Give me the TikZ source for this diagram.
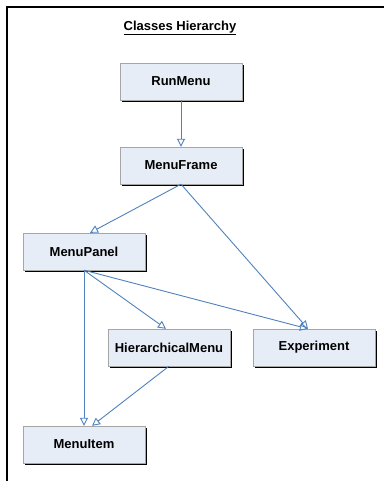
\documentclass[tikz,border=0pt]{standalone}
\usepackage{fontspec}
\setmainfont{Liberation Sans}
\usetikzlibrary{arrows.meta,shadows}
\definecolor{boxfill}{RGB}{231,237,247}
\definecolor{linkblue}{RGB}{79,129,189}
\begin{document}
\begin{tikzpicture}[x=1pt, y=-1pt, font=\fontsize{13}{15}\selectfont\bfseries,
  cls/.style={draw=gray!70, fill=boxfill, minimum width=122pt, minimum height=37pt, inner sep=0pt,
    drop shadow={shadow xshift=1.6pt, shadow yshift=-1.6pt, fill=black, opacity=1}},
  inh/.style={draw=linkblue, line width=0.9pt, -{Triangle[open, length=8pt, width=8pt]}}]
  \useasboundingbox (0,0) rectangle (384,481);
  % frame
  \draw[line width=2pt] (7,481) |- (384,7);
  \node (title) at (180,28) {\underline{Classes Hierarchy}};
  \node[cls] (runmenu) at (181,81.5) {RunMenu};
  \node[cls] (frame) at (181,165.5) {MenuFrame};
  \node[cls] (panel) at (84,251.5) {MenuPanel};
  \node[cls] (hier) at (169,347.5) {HierarchicalMenu};
  \node[cls] (exp) at (314,347.5) {Experiment};
  \node[cls] (item) at (84,444.5) {MenuItem};
  \draw[inh] (runmenu.south) -- (frame.north);
  \draw[inh] (frame.south) -- ([xshift=6pt]panel.north);
  \draw[inh] (frame.south) -- ([xshift=-6pt]exp.north);
  \draw[inh] (panel.south) -- ([xshift=-3pt]hier.north);
  \draw[inh] (panel.south) -- ([xshift=-6pt]exp.north);
  \draw[inh] (panel.south) -- (item.north);
  \draw[inh] (hier.south) -- ([xshift=8pt]item.north);
\end{tikzpicture}
\end{document}
